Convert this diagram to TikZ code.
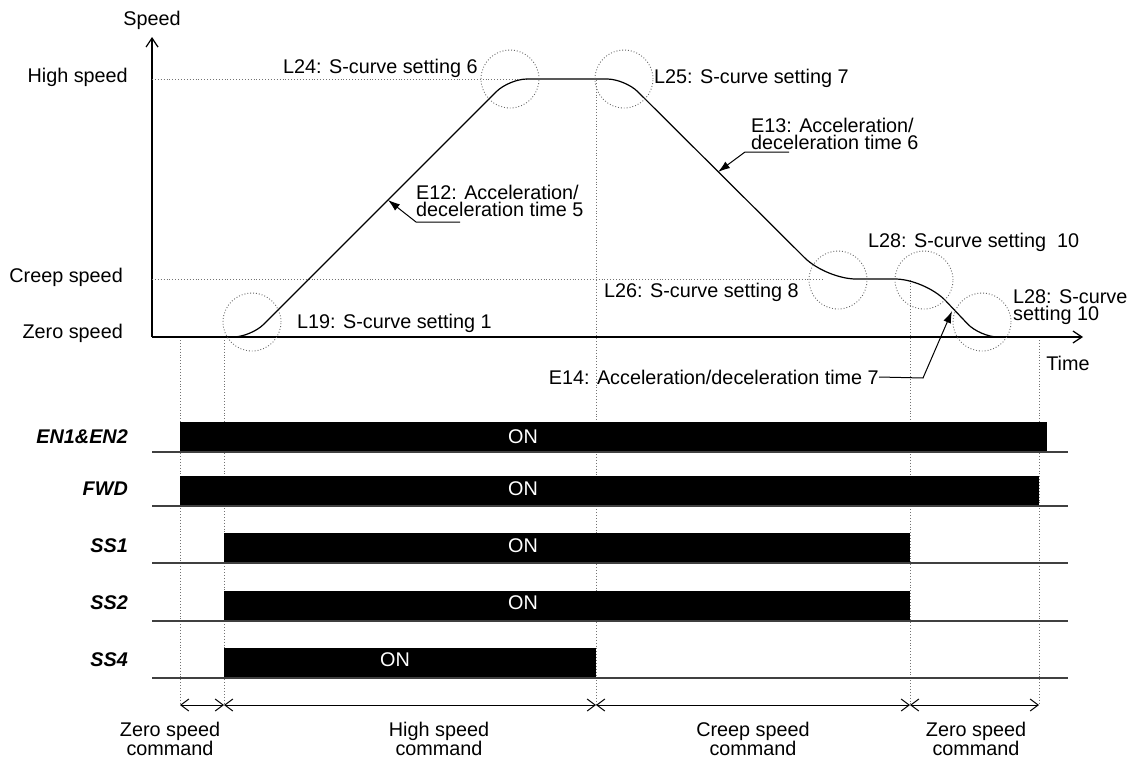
\documentclass[tikz,border=0pt]{standalone}
\usepackage{fontspec}
\setmainfont{Liberation Sans}
\usetikzlibrary{arrows.meta}

\begin{document}
\begin{tikzpicture}[
    x=1pt, y=-1pt,
    lbl/.style={font=\fontsize{19.8}{17.5}\selectfont, inner sep=0pt, align=left},
    sig/.style={font=\fontsize{19.8}{17.5}\selectfont\bfseries\itshape, inner sep=0pt, anchor=east},
    onlbl/.style={lbl, text=white},
    cmd/.style={lbl, align=center},
    bar/.style={fill=black},
    base/.style={draw=black!75, line width=1.2pt},
    guide/.style={draw=black!55, dotted, line width=0.9pt},
    scirc/.style={circle, draw=black!60, dotted, line width=0.9pt, minimum size=58pt, inner sep=0pt},
    axis/.style={line width=1.2pt, -{Straight Barb[length=9pt, width=12pt]}},
    prof/.style={line width=1.2pt},
    leader/.style={line width=1pt, -{Latex[length=12pt, width=8pt]}},
    dimarr/.style={line width=1pt, {Straight Barb[length=8pt, width=12pt]}-{Straight Barb[length=8pt, width=12pt]}}
]
\useasboundingbox (0,0) rectangle (1135,763);

% axes
\coordinate (O) at (152,337);
\coordinate (ytop) at (152,37);
\coordinate (xend) at (1083,337);
\draw[axis] (O) -- (ytop);
\draw[axis] (O) -- (xend);
\node[lbl] (speed) at (152,20) {Speed};
\node[lbl] (time) at (1068,363) {Time};
\node[lbl, anchor=east] (hi) at (128,77) {High speed};
\node[lbl, anchor=east] (cr) at (123,277) {Creep speed};
\node[lbl, anchor=east] (ze) at (123,333) {Zero speed};

% speed levels
\draw[guide] (152,79) -- (527,79);
\draw[guide] (152,279) -- (822,279);

% time marks
\coordinate (d1) at (180,705);
\coordinate (d2) at (224,705);
\coordinate (d3) at (596,705);
\coordinate (d4) at (910,705);
\coordinate (d5) at (1039,705);
\draw[guide] (180,340) -- (d1);
\draw[guide] (224,340) -- (d2);
\draw[guide] (596,80) -- (d3);
\draw[guide] (910,280) -- (d4);
\draw[guide] (1039,340) -- (d5);

% speed profile
\draw[prof, rounded corners=18pt] (O) -- (251,337) -- (509,79) -- (625,79)
    [rounded corners=30pt] -- (826,279) -- (925,279)
    [rounded corners=18pt] -- (980,337) -- (1010,337);

% S-curve zones
\node[scirc] (s1) at (252,322) {};
\node[scirc] (s2) at (510,79) {};
\node[scirc] (s3) at (624,79) {};
\node[scirc] (s4) at (838,280) {};
\node[scirc] (s5) at (924,280) {};
\node[scirc] (s6) at (982,322) {};

\node[lbl, anchor=west] (l19) at (297,323) {L19: S-curve setting 1};
\node[lbl, anchor=west] (l24) at (283,68) {L24: S-curve setting 6};
\node[lbl, anchor=west] (l25) at (654,78) {L25: S-curve setting 7};
\node[lbl, anchor=west] (l26) at (604,292) {L26: S-curve setting 8};
\node[lbl, anchor=west] (l28a) at (868,242) {L28: S-curve setting\ \ 10};
\node[lbl, anchor=west] (l28b) at (1013,307) {L28: S-curve\\setting 10};

% ramp times
\node[lbl, anchor=west] (e12) at (416,201) {E12: Acceleration/\\deceleration time 5};
\node[lbl, anchor=west] (e13) at (751,134) {E13: Acceleration/\\deceleration time 6};
\node[lbl, anchor=east] (e14) at (879,377) {E14: Acceleration/deceleration time 7};
\coordinate (e12u) at (460,222);
\coordinate (e12k) at (416,222);
\coordinate (e12t) at (388,200);
\coordinate (e13u) at (789,152);
\coordinate (e13k) at (745,152);
\coordinate (e13t) at (718,172);
\coordinate (e14k) at (923,378);
\coordinate (e14t) at (952,311);
\draw[leader] (e12u) -- (e12k) -- (e12t);
\draw[leader] (e13u) -- (e13k) -- (e13t);
\draw[leader] (e14.east) -- (e14k) -- (e14t);

% signals
\node[sig] (en) at (128,437) {EN1\&EN2};
\node[sig] (fwd) at (128,489) {FWD};
\node[sig] (ss1) at (128,546) {SS1};
\node[sig] (ss2) at (128,603) {SS2};
\node[sig] (ss4) at (128,660) {SS4};

\fill[bar] (180,422) rectangle (1047,452);
\fill[bar] (180,476) rectangle (1039,506);
\fill[bar] (224,533) rectangle (910,563);
\fill[bar] (224,591) rectangle (910,621);
\fill[bar] (224,648) rectangle (596,678);
\draw[base] (152,452) -- (1068,452);
\draw[base] (152,506) -- (1068,506);
\draw[base] (152,563) -- (1068,563);
\draw[base] (152,621) -- (1068,621);
\draw[base] (152,678) -- (1068,678);
\node[onlbl] (on1) at (523,437) {ON};
\node[onlbl] (on2) at (523,489) {ON};
\node[onlbl] (on3) at (523,546) {ON};
\node[onlbl] (on4) at (523,603) {ON};
\node[onlbl] (on5) at (395,660) {ON};

% command spans
\draw[dimarr] (d1) -- (d2);
\draw[dimarr] (d2) -- (d3);
\draw[dimarr] (d3) -- (d4);
\draw[dimarr] (d4) -- (d5);
\node[cmd] (c1) at (170,739) {Zero speed\\command};
\node[cmd] (c2) at (439,739) {High speed\\command};
\node[cmd] (c3) at (753,739) {Creep speed\\command};
\node[cmd] (c4) at (976,739) {Zero speed\\command};

\end{tikzpicture}
\end{document}
